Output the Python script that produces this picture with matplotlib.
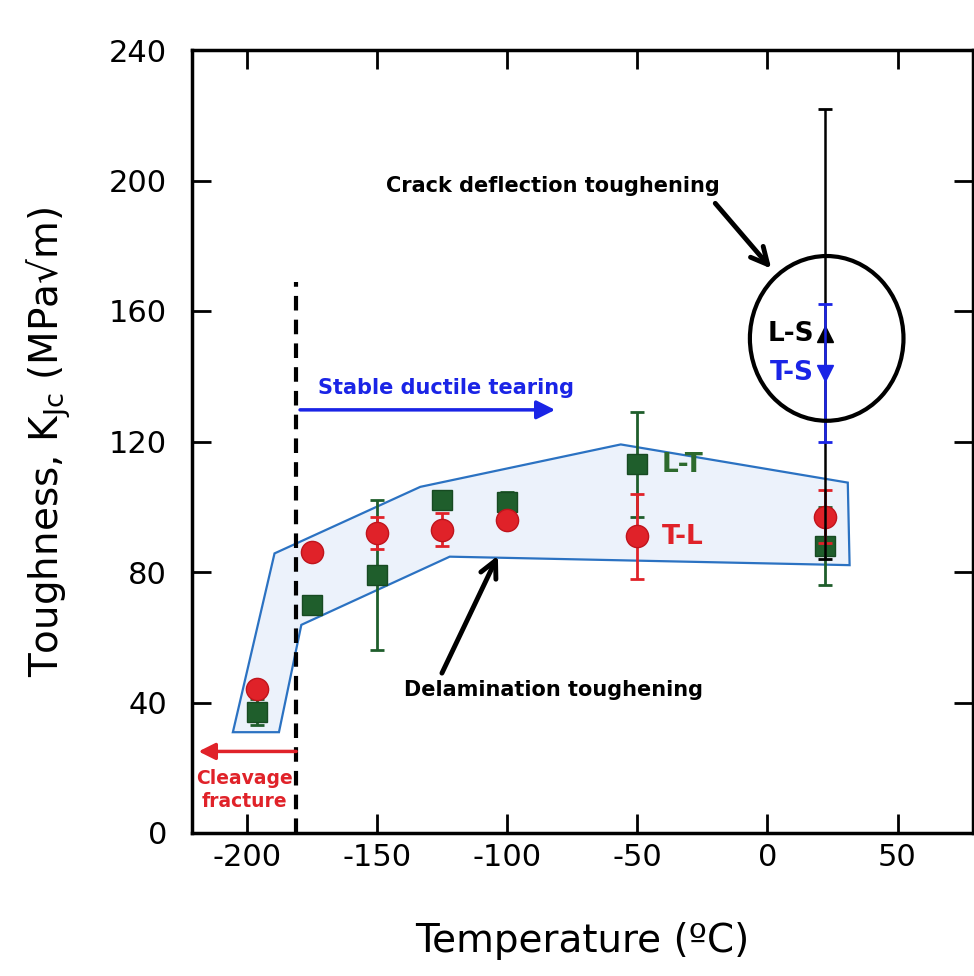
import matplotlib
matplotlib.use("Agg")
import matplotlib.pyplot as plt
from matplotlib.patches import Ellipse

plt.rcParams['font.family'] = ['DejaVu Sans']

# ---- data ----
tl_x = [-196, -175, -150, -125, -100, -50, 22]
tl_y = [44, 86, 92, 93, 96, 91, 97]
tl_err = [0, 0, 5, 5, 0, 13, 8]

lt_x = [-196, -175, -150, -125, -100, -50, 22]
lt_y = [37, 70, 79, 102, 101.5, 113, 88]
lt_err = [4, 0, 23, 0, 3, 16, 12]

ls_x = [22]
ls_y = [153]
ls_err = [69]

ts_x = [22]
ts_y = [141]
ts_err = [21]

band_x = [-205.3, -187.6, -179.0, -122.0, 31.6, 30.9, -56.3, -133.3, -189.3]
band_y = [30.9, 30.9, 63.8, 84.7, 82.1, 107.4, 119.1, 106.1, 85.7]

xticks = [-200, -150, -100, -50, 0, 50]
yticks = [0, 40, 80, 120, 160, 200, 240]

RED = '#e02229'
GREEN = '#1f5e2c'
BLUE = '#1a24e6'

fig = plt.figure(figsize=(9.74, 9.76), dpi=100)
ax = fig.add_axes([192/974, (976-833)/976, (973-192)/974, (833-50)/976])

ax.fill(band_x, band_y, facecolor='#ecf2fb', edgecolor='#2b72c2', lw=1.6, zorder=1)

ax.plot([-181, -181], [0, 169], color='black', lw=3, ls=(0, (3.5, 2.2)), zorder=2)

ax.errorbar(lt_x, lt_y, yerr=lt_err, fmt='s', ms=15, mfc=GREEN, mec='#174a22',
            ecolor=GREEN, elinewidth=2, capsize=5, capthick=2, zorder=3)
ax.errorbar(tl_x, tl_y, yerr=tl_err, fmt='o', ms=16, mfc=RED, mec='#c0141c',
            ecolor=RED, elinewidth=2, capsize=5, capthick=2, zorder=4)
ax.errorbar(ls_x, ls_y, yerr=ls_err, fmt='^', ms=11, mfc='black', mec='black',
            ecolor='black', elinewidth=1.8, capsize=5, capthick=2, zorder=5)
ax.errorbar(ts_x, ts_y, yerr=ts_err, fmt='v', ms=11, mfc=BLUE, mec=BLUE,
            ecolor=BLUE, elinewidth=1.8, capsize=5, capthick=2, zorder=6)

ax.add_patch(Ellipse((22.8, 151.6), 59, 50.5, fill=False, lw=3, ec='black', zorder=7))

# annotations
ax.text(-82.3, 198.3, 'Crack deflection toughening', fontsize=15, fontweight='bold',
        ha='center', va='center', color='black')
ax.annotate('', xy=(1.5, 173), xytext=(-20, 193),
            arrowprops=dict(arrowstyle='->', lw=3.5, color='black', mutation_scale=30,
                            shrinkA=0, shrinkB=0))
ax.text(18, 153, 'L-S', fontsize=19, fontweight='bold', ha='right', va='center', color='black')
ax.text(18, 141, 'T-S', fontsize=19, fontweight='bold', ha='right', va='center', color=BLUE)

ax.text(-172.5, 136.5, 'Stable ductile tearing', fontsize=15, fontweight='bold',
        ha='left', va='center', color=BLUE)
ax.annotate('', xy=(-81.5, 129.7), xytext=(-179.5, 129.7),
            arrowprops=dict(arrowstyle='-|>', lw=2.5, color=BLUE, mutation_scale=28,
                            shrinkA=0, shrinkB=0))

ax.text(-82.3, 43.8, 'Delamination toughening', fontsize=15, fontweight='bold',
        ha='center', va='center', color='black')
ax.annotate('', xy=(-103.5, 85), xytext=(-125, 49),
            arrowprops=dict(arrowstyle='->', lw=3.5, color='black', mutation_scale=30,
                            shrinkA=0, shrinkB=0))

ax.text(-40.5, 112.8, 'L-T', fontsize=19, fontweight='bold', ha='left', va='center', color='#2d6a2d')
ax.text(-40.5, 90.8, 'T-L', fontsize=19, fontweight='bold', ha='left', va='center', color=RED)

ax.annotate('', xy=(-218.5, 25), xytext=(-181, 25),
            arrowprops=dict(arrowstyle='-|>', lw=2.5, color=RED, mutation_scale=25,
                            shrinkA=0, shrinkB=0))
ax.text(-201, 13.2, 'Cleavage\nfracture', fontsize=13.5, fontweight='bold', ha='center',
        va='center', color=RED, linespacing=1.25)

ax.set_xlim(-221, 79)
ax.set_ylim(0, 240)
ax.set_xticks(xticks)
ax.set_yticks(yticks)
ax.set_xticklabels([str(v) for v in xticks])
ax.set_yticklabels([str(v) for v in yticks])
ax.tick_params(direction='in', length=14, width=2, top=True, right=True,
               labelsize=22)
ax.tick_params(axis='x', pad=7)
ax.tick_params(axis='y', pad=18)
for s in ax.spines.values():
    s.set_linewidth(2.5)

ax.set_xlabel('Temperature (ºC)', fontsize=28, labelpad=36)
ax.set_ylabel('Toughness, K$_{\\rm Jc}$ (MPa√m)', fontsize=28, labelpad=26)

fig.savefig('out.png', dpi=100)
